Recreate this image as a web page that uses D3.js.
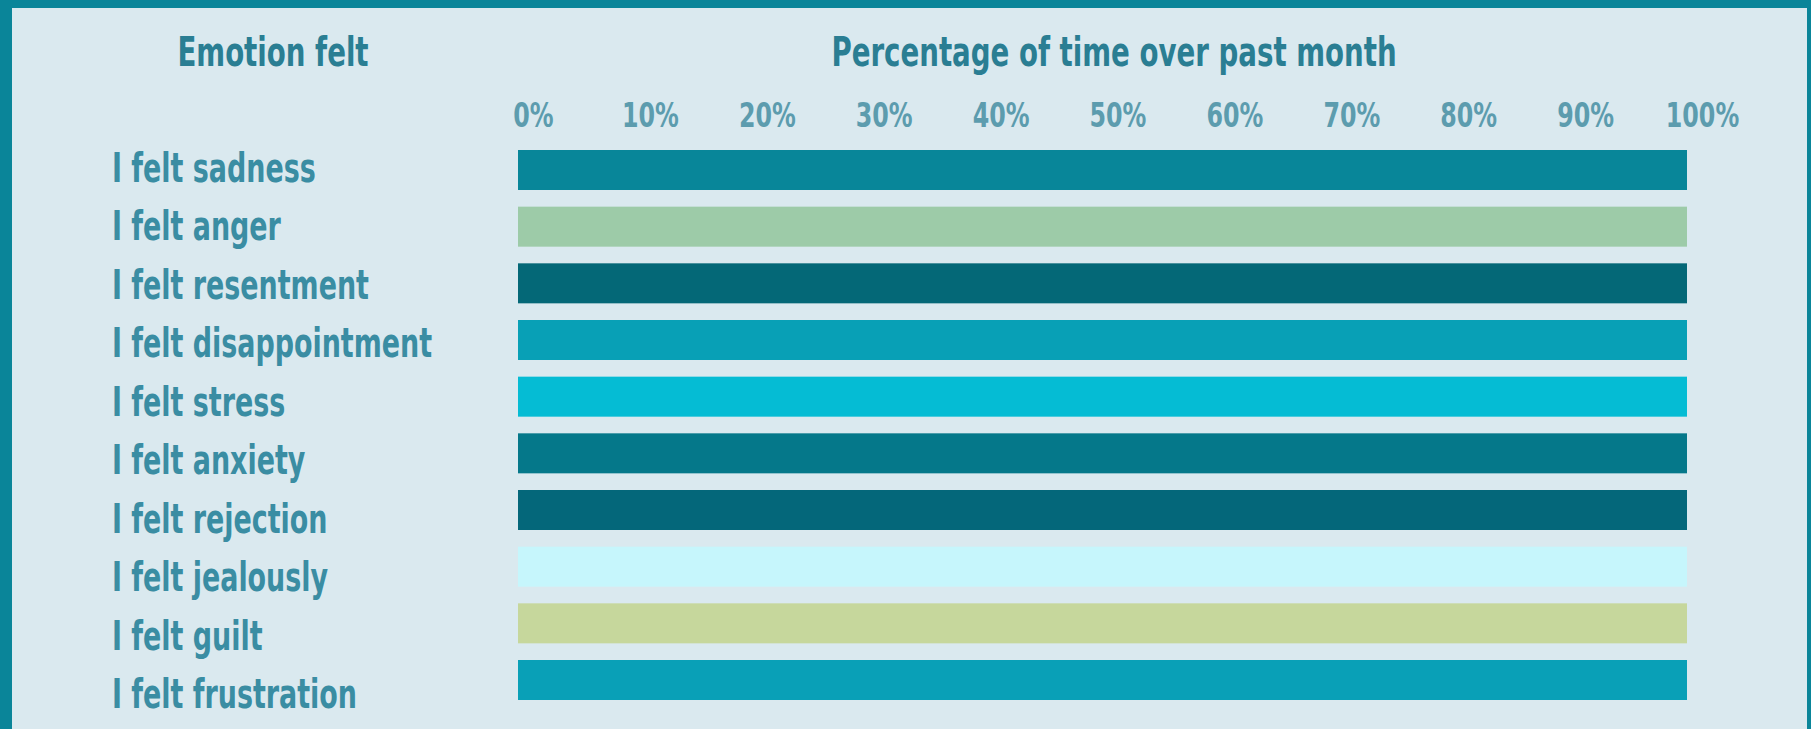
<!DOCTYPE html>
<html lang="en">
  <head>
    <meta charset="utf-8">
    <title>Emotion felt</title>
    <script src="https://cdn.jsdelivr.net/npm/d3@7"></script>
    <style>
      html, body { margin: 0; padding: 0; background: #0a8599; }
      svg { display: block; }
      text { font-family: "Liberation Sans Narrow", "Arial Narrow", "DejaVu Sans Condensed", sans-serif; font-weight: bold; }
    </style>
  </head>
  <body>
    <div id="chart"></div>
    <script>
      // emotions, top to bottom
      var emotions = ["I felt sadness", "I felt anger", "I felt resentment", "I felt disappointment",
                      "I felt stress", "I felt anxiety", "I felt rejection", "I felt jealously",
                      "I felt guilt", "I felt frustration"];
      // percentage of time over past month
      var values = [100, 100, 100, 100, 100, 100, 100, 100, 100, 100];
      var colors = ["#088699", "#9dcba8", "#046877", "#08a0b6", "#05bcd4",
                    "#05788a", "#04677a", "#c6f6fc", "#c6d79c", "#09a0b7"];
      var ticks = [0, 10, 20, 30, 40, 50, 60, 70, 80, 90, 100];

      var width = 1811, height = 729;
      var squeeze = 0.75; // the original font is a tall condensed gothic

      var svg = d3.select("#chart").append("svg")
          .attr("width", width)
          .attr("height", height);

      // frame: teal border on top / left / right
      svg.append("rect")
          .attr("x", 0).attr("y", 0)
          .attr("width", width).attr("height", height)
          .attr("fill", "#0a8599");
      svg.append("rect")
          .attr("x", 12).attr("y", 8)
          .attr("width", width - 12 - 4).attr("height", height - 8)
          .attr("fill", "#dae9ef");

      var x = d3.scaleLinear().domain([0, 100]).range([518, 1687]);
      var y = d3.scalePoint().domain(emotions).range([170, 680]);
      var yLabel = d3.scalePoint().domain(emotions).range([182, 708]);
      var barH = 40;

      function squeezed(sel, px, py, s) {
        return sel.attr("transform", "translate(" + px + "," + py + ") scale(" + s + ",1)");
      }

      // headers
      squeezed(svg.append("text"), 273, 66, squeeze)
          .attr("text-anchor", "middle")
          .attr("font-size", 41)
          .attr("fill", "#2a7e93")
          .text("Emotion felt");
      squeezed(svg.append("text"), 1114, 66, squeeze)
          .attr("text-anchor", "middle")
          .attr("font-size", 41)
          .attr("fill", "#2a7e93")
          .text("Percentage of time over past month");

      // axis labels along the top
      var axis = svg.append("g")
          .attr("transform", "translate(15,127)")
          .call(d3.axisTop(x).tickValues(ticks).tickFormat(function(d) { return d + "%"; }).tickSize(0).tickPadding(0));
      axis.select(".domain").remove();
      axis.selectAll("text")
          .attr("font-size", 33)
          .attr("fill", "#5c9cae")
          .attr("dy", 0)
          .attr("transform", "scale(0.8,1)");

      // bars
      svg.selectAll("rect.bar")
          .data(values)
          .enter()
          .append("rect")
          .attr("class", "bar")
          .attr("x", x(0))
          .attr("y", function(d, i) { return y(emotions[i]) - barH / 2; })
          .attr("width", function(d) { return x(d) - x(0); })
          .attr("height", barH)
          .attr("fill", function(d, i) { return colors[i]; });

      // row labels
      svg.selectAll("text.label")
          .data(emotions)
          .enter()
          .append("text")
          .attr("class", "label")
          .attr("transform", function(d) { return "translate(112," + yLabel(d) + ") scale(0.73,1)"; })
          .attr("font-size", 41)
          .attr("fill", "#3a8da3")
          .text(function(d) { return d; });
    </script>
  </body>
</html>
